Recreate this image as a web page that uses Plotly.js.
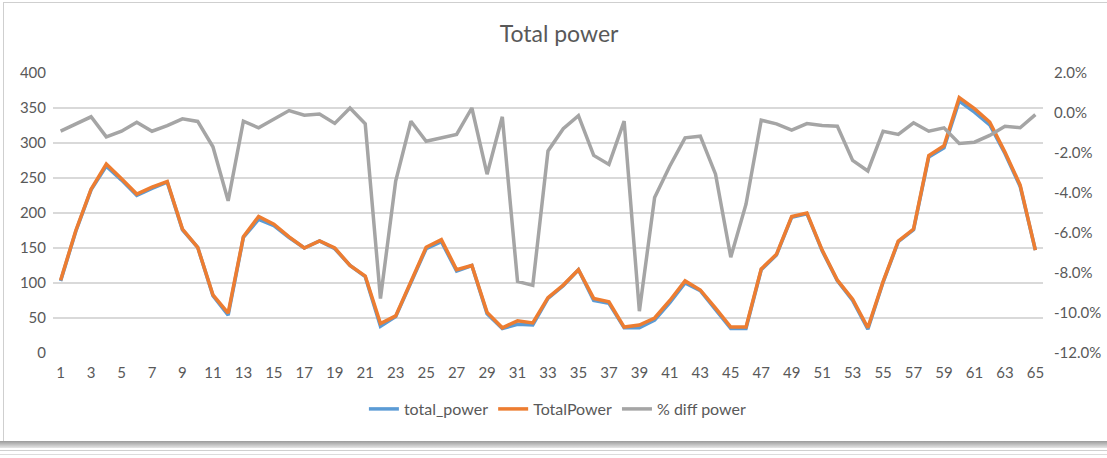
<!DOCTYPE html>
<html>
<head>
<meta charset="utf-8">
<script src="https://cdn.plot.ly/plotly-3.0.1.min.js"></script>
<style>
  html, body { margin: 0; padding: 0; background: #ffffff; }
  #wrap { position: relative; width: 1107px; height: 458px; overflow: hidden; background: #ffffff; }
  #chart { position: absolute; left: 0; top: 0; width: 1107px; height: 458px; }
  #frame { position: absolute; left: 3px; top: 2px; width: 1110px; height: 438px; border: 1px solid #cfcfcf; pointer-events: none; }
  #shadow { position: absolute; left: 0; top: 441px; width: 1107px; height: 7px;
            background: linear-gradient(#9a9a9a, #e6e6e6); pointer-events: none; }
  #line1 { position: absolute; left: 0; top: 450px; width: 1107px; height: 1px; background: #d0d0d0; }
  #line2 { position: absolute; left: 0; top: 454px; width: 1107px; height: 1px; background: #dcdcdc; }
</style>
</head>
<body>
<div id="wrap">
  <div id="chart"></div>
  <div id="frame"></div>
  <div id="shadow"></div>
  <div id="line1"></div>
  <div id="line2"></div>
</div>
<script>
// categories 1..65
const categories = [1,2,3,4,5,6,7,8,9,10,11,12,13,14,15,16,17,18,19,20,21,22,23,24,25,26,27,28,29,30,31,32,33,34,35,36,37,38,39,40,41,42,43,44,45,46,47,48,49,50,51,52,53,54,55,56,57,58,59,60,61,62,63,64,65];

const total_power = [103,174,233,267,247,225,235,244,176,151,82,54,165,191,182,165,150,160,149,125,109,38,52,101,149,159,117,125,56,35,41,40,78,96,119,75,71,36,36,47,72,100,89,62,35,35,119,140,194,199,146,103,75,34,101,159,176,280,293,360,344,326,285,238,147];

const TotalPower = [104,175,234,270,249,227,237,245,177,151,83,57,166,195,184,166,150,160,150,125,110,42,53,102,151,162,119,125,58,36,46,43,79,97,119,78,73,37,40,50,75,103,90,64,37,37,120,141,195,200,147,104,77,36,102,160,177,282,296,365,349,330,287,240,147];

// % diff power (in percent)
const diffPower = [-0.91,-0.54,-0.19,-1.19,-0.91,-0.46,-0.91,-0.63,-0.29,-0.42,-1.69,-4.39,-0.41,-0.74,-0.29,0.12,-0.11,-0.05,-0.52,0.25,-0.54,-9.28,-3.40,-0.41,-1.41,-1.24,-1.07,0.25,-3.06,-0.19,-8.42,-8.62,-1.90,-0.79,-0.13,-2.12,-2.57,-0.41,-9.91,-4.22,-2.65,-1.24,-1.16,-3.06,-7.21,-4.56,-0.36,-0.54,-0.86,-0.53,-0.63,-0.66,-2.37,-2.90,-0.91,-1.07,-0.49,-0.91,-0.74,-1.52,-1.46,-1.12,-0.66,-0.74,-0.08];

const xTickVals = [1,3,5,7,9,11,13,15,17,19,21,23,25,27,29,31,33,35,37,39,41,43,45,47,49,51,53,55,57,59,61,63,65];
const leftTicks = [0,50,100,150,200,250,300,350,400];
const rightTicks = [-12,-10,-8,-6,-4,-2,0,2];

const FONT = 'Lato, "Open Sans", sans-serif';
const TXT = '#595959';

const traces = [
  { x: categories, y: total_power, name: 'total_power', type: 'scatter', mode: 'lines',
    line: { color: '#5B9BD5', width: 3.5 }, yaxis: 'y' },
  { x: categories, y: TotalPower, name: 'TotalPower', type: 'scatter', mode: 'lines',
    line: { color: '#ED7D31', width: 3.5 }, yaxis: 'y' },
  { x: categories, y: diffPower, name: '% diff power', type: 'scatter', mode: 'lines',
    line: { color: '#A5A5A5', width: 3.5 }, yaxis: 'y2' }
];

const layout = {
  width: 1107, height: 458,
  margin: { l: 53, r: 64, t: 73, b: 105 },
  paper_bgcolor: 'rgba(0,0,0,0)',
  plot_bgcolor: 'rgba(0,0,0,0)',
  font: { family: FONT, color: TXT, size: 14 },
  title: { text: 'Total power', font: { family: FONT, size: 23, color: TXT },
           x: 0.505, xref: 'container', y: 0.926, yref: 'container', yanchor: 'middle' },
  xaxis: {
    range: [0.5, 65.5], tickmode: 'array', tickvals: xTickVals, ticktext: xTickVals.map(String),
    showgrid: false, zeroline: false, showline: false, ticks: '',
    tickfont: { family: FONT, size: 15, color: TXT }, ticklabelstandoff: 9, fixedrange: true
  },
  yaxis: {
    range: [0, 400], tickmode: 'array', tickvals: leftTicks, ticktext: leftTicks.map(String),
    showgrid: true, gridcolor: '#D9D9D9', gridwidth: 1.6, zeroline: false, showline: false, ticks: '',
    tickfont: { family: FONT, size: 15, color: TXT }, ticklabelstandoff: 6
  },
  yaxis2: {
    range: [-12, 2], overlaying: 'y', side: 'right', tickmode: 'array', tickvals: rightTicks,
    ticktext: rightTicks.map(v => v.toFixed(1) + '%'),
    showgrid: false, zeroline: false, showline: false, ticks: '',
    tickfont: { family: FONT, size: 15, color: TXT }, ticklabelstandoff: 10
  },
  showlegend: true,
  legend: { orientation: 'h', x: 0.51, xanchor: 'center', y: -0.2, yanchor: 'middle',
            font: { family: FONT, size: 16, color: TXT }, itemwidth: 30, traceorder: 'normal' }
};

Plotly.newPlot('chart', traces, layout, { displayModeBar: false, staticPlot: true });
</script>
</body>
</html>
